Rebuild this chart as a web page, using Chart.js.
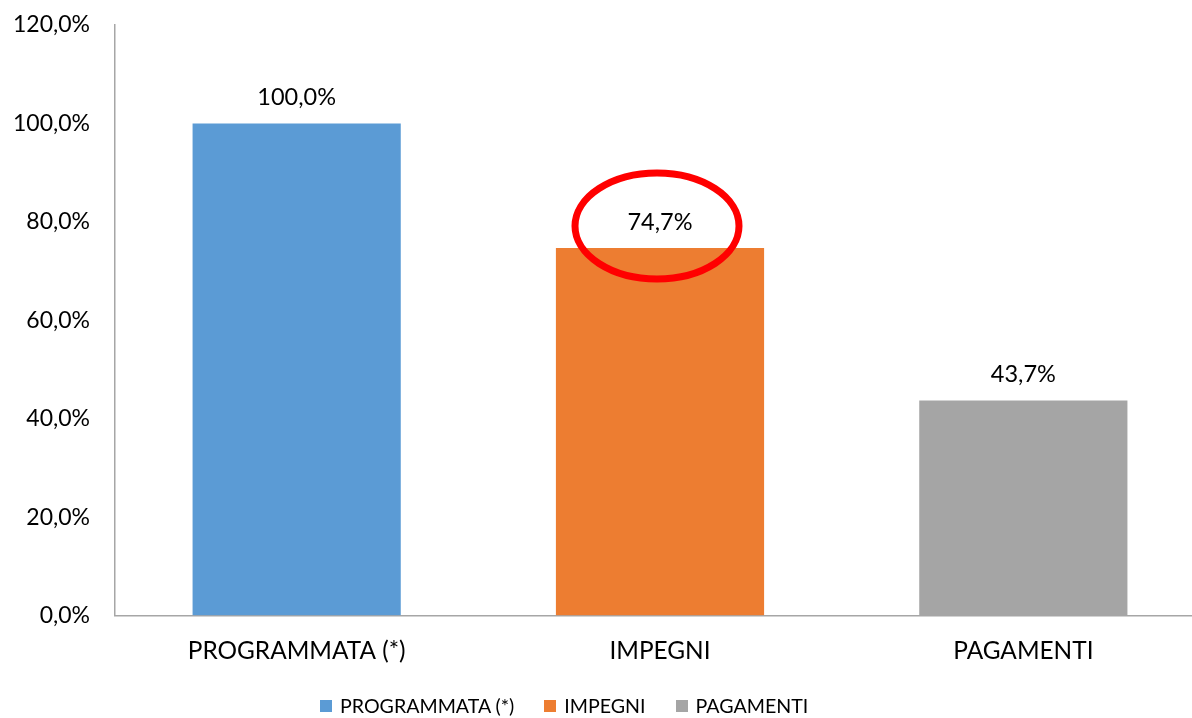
<!DOCTYPE html>
<html>
<head>
<meta charset="utf-8">
<script src="https://cdn.jsdelivr.net/npm/chart.js@4.4.0/dist/chart.umd.min.js"></script>
<style>
  html, body { margin: 0; padding: 0; background: #fff; overflow: hidden; }
  #wrap { position: relative; width: 1205px; height: 696px; }
  #legend {
    position: absolute; left: 320px; top: 694px;
    display: flex; align-items: center; gap: 30px;
    font-family: Lato, sans-serif; font-size: 19.6px; color: #000;
  }
  #legend .item { display: flex; align-items: center; gap: 8px; }
  #legend .box { width: 12px; height: 12px; }
</style>
</head>
<body>
<div id="wrap"><canvas id="chart"></canvas></div>
<div id="legend"></div>
<script>
const categories = ["PROGRAMMATA (*)", "IMPEGNI", "PAGAMENTI"];
const values = [100.0, 74.7, 43.7];
const colors = ["#5B9BD5", "#ED7D31", "#A5A5A5"];
const highlightIndex = 1;

const fmt = v => v.toFixed(1).replace(".", ",") + "%";
const font = "Lato, sans-serif";

// labels above bars + red circle on the highlighted one
const barLabels = {
  id: "barLabels",
  afterDatasetsDraw(chart) {
    const ctx = chart.ctx;
    const meta = chart.getDatasetMeta(0);
    ctx.save();
    ctx.font = "23.5px " + font;
    ctx.fillStyle = "#000";
    ctx.textAlign = "center";
    ctx.textBaseline = "middle";
    meta.data.forEach((bar, i) => {
      ctx.fillText(fmt(values[i]), bar.x, bar.y - 26);
    });
    const hb = meta.data[highlightIndex];
    ctx.beginPath();
    ctx.ellipse(hb.x - 3, hb.y - 22, 82, 53, 0, 0, Math.PI * 2);
    ctx.strokeStyle = "#FF0000";
    ctx.lineWidth = 7;
    ctx.stroke();
    ctx.restore();
  }
};

new Chart(document.getElementById("chart"), {
  type: "bar",
  data: {
    labels: categories,
    datasets: [{
      data: values,
      backgroundColor: colors,
      barPercentage: 0.573,
      categoryPercentage: 1
    }]
  },
  options: {
    responsive: true,
    maintainAspectRatio: false,
    animation: false,
    layout: { padding: { top: 25, bottom: 9, left: 0, right: 0 } },
    plugins: {
      legend: { display: false },
      tooltip: { enabled: false }
    },
    scales: {
      x: {
        grid: { drawOnChartArea: false, drawTicks: false },
        border: { color: "#A6A6A6", width: 1.5 },
        ticks: { color: "#000", padding: 21, font: { family: font, size: 24.4 } }
      },
      y: {
        min: 0,
        max: 120,
        afterFit: scale => {
          scale.width = 115;
          scale.paddingTop = 0;
          scale.paddingBottom = 0;
        },
        grid: { drawOnChartArea: false, drawTicks: false },
        border: { color: "#A6A6A6", width: 1.5 },
        ticks: {
          stepSize: 20,
          color: "#000",
          padding: 25,
          font: { family: font, size: 23 },
          callback: v => fmt(v)
        }
      }
    }
  },
  plugins: [barLabels]
});

// legend
const legend = document.getElementById("legend");
categories.forEach((c, i) => {
  const item = document.createElement("div");
  item.className = "item";
  item.innerHTML = '<span class="box" style="background:' + colors[i] + '"></span><span>' + c + "</span>";
  legend.appendChild(item);
});
</script>
</body>
</html>
